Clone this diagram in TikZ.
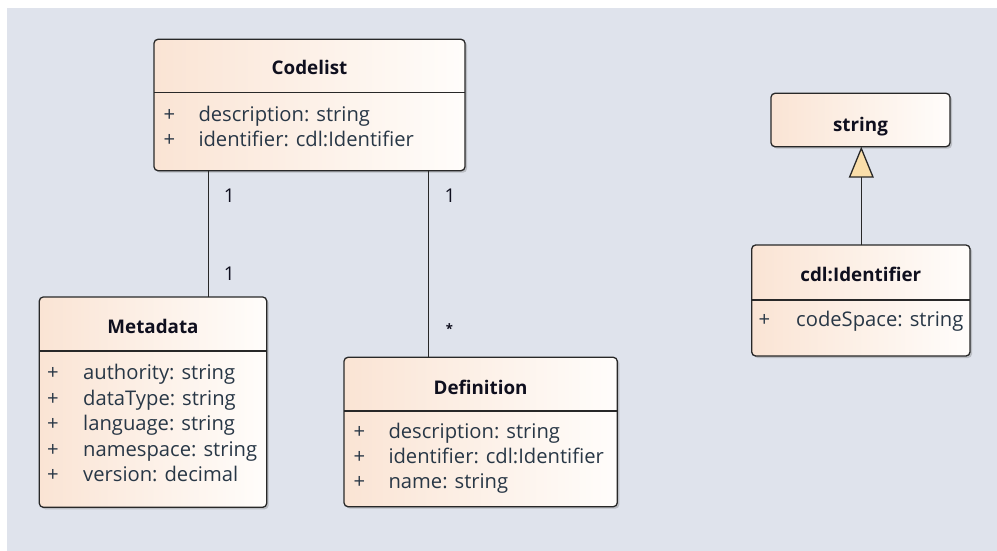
\documentclass[tikz,border=0pt]{standalone}
\usepackage{fontspec}
\setmainfont{Open Sans}
\usetikzlibrary{shadows,arrows.meta}
\definecolor{bg}{RGB}{223,227,236}
\definecolor{peach}{RGB}{250,228,212}
\definecolor{boxw}{RGB}{255,253,251}
\definecolor{edgec}{RGB}{40,40,40}
\definecolor{attrc}{RGB}{40,55,70}
\definecolor{titlec}{RGB}{15,15,30}
\definecolor{trifill}{RGB}{250,222,170}
\tikzset{
  classbox/.style={draw=edgec, line width=1.3pt, rounded corners=4pt, left color=peach, right color=boxw,
    inner sep=0pt, outer sep=0pt, anchor=north west,
    drop shadow={shadow xshift=2pt, shadow yshift=-2pt, opacity=0.25, fill=black!70}},
  sepline/.style={draw=edgec, line width=1.1pt},
  titletext/.style={font=\fontsize{18.8}{22}\selectfont\bfseries, text=titlec, inner sep=0pt, anchor=base},
  attrtext/.style={font=\fontsize{20.2}{24}\selectfont, text=attrc, inner sep=0pt},
  multtext/.style={font=\fontsize{19}{22}\selectfont, text=titlec, inner sep=0pt, anchor=base},
  assoc/.style={draw=edgec, line width=1.3pt},
}
\newcommand\attrrow[5]{%
  \node[attrtext, anchor=base] (#1p) at (#2,#4) {+};
  \node[attrtext, anchor=base west] (#1) at (#3,#4) {#5};}
\begin{document}
\begin{tikzpicture}[x=1pt,y=-1pt]
\useasboundingbox (0,0) rectangle (997,551);
\fill[bg] (7,8) rectangle (997,551);

% Codelist
\node[classbox, minimum width=311pt, minimum height=131.4pt] (codelist) at (154,39.3) {};
\draw[sepline] (codelist.west |- 0,92.7) -- (codelist.east |- 0,92.7);
\node[titletext] (codelistT) at (309.5,75) {Codelist};
\attrrow{cla}{169.3}{198.3}{121.7}{description: string}
\attrrow{clb}{169.3}{198.3}{146.7}{identifier: cdl:Identifier}

% Metadata
\node[classbox, minimum width=227.4pt, minimum height=210.3pt] (metadata) at (39.3,297) {};
\draw[sepline] (metadata.west |- 0,351) -- (metadata.east |- 0,351);
\node[titletext] (metadataT) at (153,333.3) {Metadata};
\attrrow{mda}{53}{83}{379.3}{authority: string}
\attrrow{mdb}{53}{83}{405}{dataType: string}
\attrrow{mdc}{53}{83}{430.5}{language: string}
\attrrow{mdd}{53}{83}{456.2}{namespace: string}
\attrrow{mde}{53}{83}{481.7}{version: decimal}

% Definition
\node[classbox, minimum width=273.3pt, minimum height=149.4pt] (definition) at (344,357.3) {};
\draw[sepline] (definition.west |- 0,411) -- (definition.east |- 0,411);
\node[titletext] (definitionT) at (480.6,394) {Definition};
\attrrow{dfa}{359.3}{388.3}{438.3}{description: string}
\attrrow{dfb}{359.3}{388.3}{463.3}{identifier: cdl:Identifier}
\attrrow{dfc}{359.3}{388.3}{488.3}{name: string}

% string
\node[classbox, minimum width=179pt, minimum height=53.4pt] (string) at (771,93.3) {};
\node[titletext] (stringT) at (860.5,131.7) {string};

% cdl:Identifier
\node[classbox, minimum width=218.3pt, minimum height=111pt] (cdl) at (751.7,245) {};
\draw[sepline] (cdl.west |- 0,300) -- (cdl.east |- 0,300);
\node[titletext] (cdlT) at (860.8,281.7) {cdl:Identifier};
\attrrow{cda}{764.3}{796}{326.7}{codeSpace: string}

% associations
\draw[assoc] (codelist.south -| 208.3,0) -- (metadata.north -| 208.3,0);
\draw[assoc] (codelist.south -| 428.3,0) -- (definition.north -| 428.3,0);
\node[multtext] (m1) at (229.3,202.3) {1};
\node[multtext] (m2) at (229.3,280) {1};
\node[multtext] (m3) at (450,202.3) {1};
\node[multtext, anchor=center] (m4) at (449.3,328.3) {\fontsize{13}{14}\selectfont\bfseries *};

% generalization
\draw[assoc, -{Triangle[fill=trifill, length=31pt, width=25pt, line width=1.3pt]}]
  (cdl.north -| 861.3,0) -- (string.south -| 861.3,0);
\end{tikzpicture}
\end{document}
